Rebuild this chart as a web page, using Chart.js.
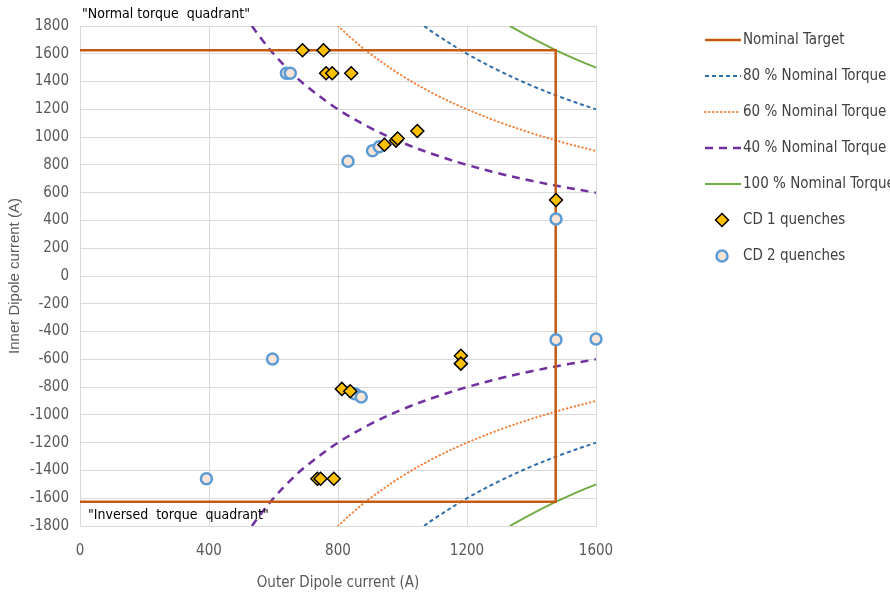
<!DOCTYPE html>
<html>
<head>
<meta charset="utf-8">
<script src="https://cdn.jsdelivr.net/npm/chart.js@4.4.1/dist/chart.umd.min.js"></script>
<style>
  html, body { margin: 0; padding: 0; background: #fff; }
  #wrap { width: 890px; height: 596px; }
</style>
</head>
<body>
<div id="wrap"><canvas id="chart" width="890" height="596"></canvas></div>
<script>
"use strict"

// nominal target box (outer, inner current)
const nominalX = [0, 1475, 1475, 0]
const nominalY = [1625, 1625, -1625, -1625]

// torque curves (upper half, then lower half)
const t40X = [533, 560, 600, 650, 700, 800, 900, 1000, 1100, 1200, 1300, 1400, 1500, 1600]
const t40Up = [1800, 1715, 1600, 1477, 1371, 1200, 1067, 960, 873, 800, 738, 686, 640, 600]
const t40Down = [-1800, -1715, -1600, -1477, -1371, -1200, -1067, -960, -873, -800, -738, -686, -640, -600]

const t60X = [800, 850, 900, 1000, 1100, 1200, 1300, 1400, 1500, 1600]
const t60Up = [1800, 1694, 1600, 1440, 1309, 1200, 1108, 1029, 960, 900]
const t60Down = [-1800, -1694, -1600, -1440, -1309, -1200, -1108, -1029, -960, -900]

const t80X = [1067, 1100, 1200, 1300, 1400, 1500, 1600]
const t80Up = [1800, 1745, 1600, 1477, 1371, 1280, 1200]
const t80Down = [-1800, -1745, -1600, -1477, -1371, -1280, -1200]

const t100X = [1333, 1400, 1475, 1540, 1600]
const t100Up = [1800, 1714, 1627, 1558, 1500]
const t100Down = [-1800, -1714, -1627, -1558, -1500]

// quench points
const cd1X = [690, 755, 763, 782, 841, 944, 980, 985, 1046, 1476, 812, 838, 1181, 1181, 736, 746, 787]
const cd1Y = [1625, 1625, 1460, 1460, 1460, 945, 975, 990, 1044, 547, -813, -830, -574, -631, -1460, -1460, -1460]
const cd2X = [640, 652, 831, 907, 928, 1476, 597, 852, 872, 392, 1476, 1600]
const cd2Y = [1460, 1460, 826, 902, 931, 410, -598, -847, -871, -1460, -459, -454]

const xTicks = [0, 400, 800, 1200, 1600]

const font = "'Liberation Sans Narrow', 'DejaVu Sans Condensed', sans-serif"

function pts(xs, ys){
    return xs.map((x, i) => ({x: x, y: ys[i]}))
}
// joins two halves with a gap so they stay one legend entry
function halves(xs, up, down){
    return pts(xs, up).concat([{x: xs[xs.length - 1], y: null}], pts(xs, down))
}

function lineSet(label, data, color, width, dash){
    return {
        type: 'scatter', label: label, data: data, showLine: true,
        borderColor: color, backgroundColor: color, borderWidth: width,
        borderDash: dash, borderCapStyle: dash.length && dash[0] < 2 ? 'round' : 'butt',
        pointRadius: 0, tension: 0.35, spanGaps: false, order: 2
    }
}

const datasets = [
    Object.assign(lineSet('Nominal Target', pts(nominalX, nominalY), '#C55A11', 2.5, []), {tension: 0}),
    lineSet('80 % Nominal Torque', halves(t80X, t80Up, t80Down), '#2E6DA8', 2, [4, 3]),
    lineSet('60 % Nominal Torque', halves(t60X, t60Up, t60Down), '#F47F3A', 2, [0.5, 3.5]),
    lineSet('40 % Nominal Torque', halves(t40X, t40Up, t40Down), '#7030A0', 2.5, [8, 6]),
    lineSet('100 % Nominal Torque', halves(t100X, t100Up, t100Down), '#70AD47', 2, []),
    {
        type: 'scatter', label: 'CD 1 quenches', data: pts(cd1X, cd1Y),
        pointStyle: 'rectRot', pointRadius: 6.5, pointBackgroundColor: '#FFC000',
        pointBorderColor: '#000', pointBorderWidth: 1.5, clip: false, order: 0
    },
    {
        type: 'scatter', label: 'CD 2 quenches', data: pts(cd2X, cd2Y),
        pointStyle: 'circle', pointRadius: 5.5, pointBackgroundColor: '#FBE5D6',
        pointBorderColor: '#5B9BD5', pointBorderWidth: 2.5, clip: false, order: 1
    }
]

// legend on the right and the two quadrant notes
const extras = {
    id: 'extras',
    afterDraw(chart){
        const ctx = chart.ctx
        const area = chart.chartArea
        ctx.save()
        ctx.fillStyle = '#000'
        ctx.font = '14px ' + font
        ctx.textBaseline = 'middle'
        ctx.fillText('"Normal torque  quadrant"', area.left + 2, area.top - 12)
        ctx.fillText('"Inversed  torque  quadrant"', area.left + 8, area.bottom - 11)

        ctx.font = '15px ' + font
        chart.data.datasets.forEach((ds, i) => {
            const y = 40 + i * 36
            ctx.save()
            if (ds.showLine){
                ctx.strokeStyle = ds.borderColor
                ctx.lineWidth = ds.borderWidth
                ctx.setLineDash(ds.borderDash)
                ctx.lineCap = ds.borderCapStyle
                ctx.beginPath()
                ctx.moveTo(705, y)
                ctx.lineTo(741, y)
                ctx.stroke()
            } else {
                ctx.fillStyle = ds.pointBackgroundColor
                ctx.strokeStyle = ds.pointBorderColor
                ctx.lineWidth = ds.pointBorderWidth
                ctx.beginPath()
                const r = ds.pointRadius
                if (ds.pointStyle === 'circle'){
                    ctx.arc(722, y, r, 0, Math.PI * 2)
                } else {
                    ctx.moveTo(722, y - r); ctx.lineTo(722 + r, y); ctx.lineTo(722, y + r); ctx.lineTo(722 - r, y); ctx.closePath()
                }
                ctx.fill()
                ctx.stroke()
            }
            ctx.restore()
            ctx.fillStyle = '#404040'
            ctx.fillText(ds.label, 743, y)
        })
        ctx.restore()
    }
}

new Chart(document.getElementById('chart'), {
    type: 'scatter',
    data: { datasets: datasets },
    plugins: [extras],
    options: {
        responsive: false,
        animation: false,
        devicePixelRatio: 1,
        layout: { padding: { top: 26, right: 294, left: 0, bottom: 0 } },
        plugins: { legend: { display: false }, tooltip: { enabled: false } },
        scales: {
            x: {
                type: 'linear', min: 0, max: 1600,
                afterBuildTicks: scale => { scale.ticks = xTicks.map(v => ({value: v})) },
                afterFit: scale => { scale.height = 70 },
                grid: { color: '#d9d9d9', drawTicks: false },
                border: { color: '#d9d9d9' },
                ticks: { color: '#595959', font: { family: font, size: 15 }, padding: 16,
                    callback: v => String(v) },
                title: { display: true, text: 'Outer Dipole current (A)', color: '#595959',
                    font: { family: font, size: 15 }, padding: { top: 6 } }
            },
            y: {
                type: 'linear', min: -1800, max: 1800,
                ticks: { stepSize: 200, color: '#595959', font: { family: font, size: 15 }, padding: 11,
                    callback: v => String(v) },
                afterFit: scale => { scale.width = 80 },
                grid: { color: '#d9d9d9', drawTicks: false },
                border: { color: '#d9d9d9' },
                title: { display: true, text: 'Inner Dipole current (A)', color: '#595959',
                    font: { family: "'Liberation Sans', sans-serif", size: 15 }, padding: { top: 6, bottom: 0 } }
            }
        }
    }
})
</script>
</body>
</html>
